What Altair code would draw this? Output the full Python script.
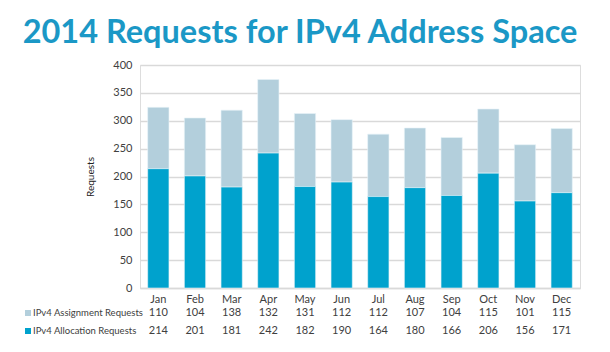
import altair as alt
import pandas as pd

months = ["Jan", "Feb", "Mar", "Apr", "May", "Jun", "Jul", "Aug", "Sep", "Oct", "Nov", "Dec"]
assignment = [110, 104, 138, 132, 131, 112, 112, 107, 104, 115, 101, 115]
allocation = [214, 201, 181, 242, 182, 190, 164, 180, 166, 206, 156, 171]
series = ["IPv4 Assignment Requests", "IPv4 Allocation Requests"]
colors = ["#b3cfdc", "#00a2cd"]

rows = []
for m, a, b in zip(months, assignment, allocation):
    rows.append({"month": m, "series": series[0], "value": a, "ord": 1})
    rows.append({"month": m, "series": series[1], "value": b, "ord": 0})
df = pd.DataFrame(rows)

W, H = 440, 223
FONT = "Lato"
TXT = "#404040"

x = alt.X("month:N", sort=months, scale=alt.Scale(paddingInner=0.42, paddingOuter=0.21),
          axis=alt.Axis(title=None, labelAngle=0, ticks=False, domainColor="#d9d9d9",
                        domainWidth=1.5, labelPadding=5, labelFont=FONT, labelFontSize=11,
                        labelColor=TXT))

bars = alt.Chart(df).mark_bar(stroke="#e8f4f8", strokeWidth=0.6).encode(
    x=x,
    y=alt.Y("value:Q", stack="zero", scale=alt.Scale(domain=[0, 400]),
            axis=alt.Axis(values=list(range(0, 401, 50)), title="Requests", titleFont=FONT,
                          titleFontSize=10, titleFontWeight="normal", titleColor="#222222",
                          titlePadding=17, domain=False, ticks=False, gridColor="#d9d9d9",
                          gridWidth=1.5, labelFont=FONT, labelFontSize=11, labelColor=TXT,
                          labelPadding=8)),
    color=alt.Color("series:N", scale=alt.Scale(domain=series, range=colors), legend=None),
    order=alt.Order("ord:Q"),
)

row_y = {series[0]: H + 25, series[1]: H + 43}

def value_row(s, vals):
    d = pd.DataFrame({"month": months, "v": vals})
    return alt.Chart(d).mark_text(font=FONT, fontSize=11, color=TXT, baseline="middle").encode(
        x=alt.X("month:N", sort=months), y=alt.value(row_y[s]), text="v:Q")

def label_row(s):
    d = pd.DataFrame({"series": [s]})
    t = alt.Chart(d).mark_text(font=FONT, fontSize=9.5, color=TXT, align="left",
                               baseline="middle").encode(
        x=alt.value(-107), y=alt.value(row_y[s]), text="series:N")
    sq = alt.Chart(d).mark_square(size=36, opacity=1).encode(
        x=alt.value(-112), y=alt.value(row_y[s]),
        color=alt.Color("series:N", scale=alt.Scale(domain=series, range=colors), legend=None))
    return t + sq

chart = alt.layer(
    bars,
    value_row(series[0], assignment),
    value_row(series[1], allocation),
    label_row(series[0]),
    label_row(series[1]),
).properties(
    width=W, height=H,
    title=alt.TitleParams("2014 Requests for IPv4 Address Space", font=FONT, fontSize=32.5,
                          fontWeight="bold", color="#1b98c6", anchor="middle", dx=-60,
                          offset=10),
    padding={"left": 140, "top": 65, "right": 30, "bottom": 64},
    autosize=alt.AutoSizeParams(type="none"),
).configure_view(stroke=None).configure(background="white")

chart.save("out.html", embed_options={"renderer": "svg", "actions": False})
